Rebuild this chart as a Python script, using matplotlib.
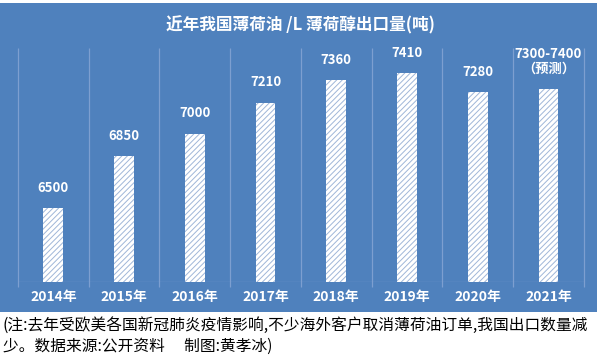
import matplotlib.pyplot as plt

plt.rcParams['font.family'] = ['Noto Sans CJK SC', 'DejaVu Sans']
plt.rcParams['hatch.linewidth'] = 0.7

years = ['2014年', '2015年', '2016年', '2017年', '2018年', '2019年', '2020年', '2021年']
exports = [6500, 6850, 7000, 7210, 7360, 7410, 7280, 7300]
value_labels = ['6500', '6850', '7000', '7210', '7360', '7410', '7280', '7300-7400\n（预测）']

blue = '#4f81bd'
grid = '#7d9fd0'

fig = plt.figure(figsize=(6, 3.58), dpi=100)
fig.patch.set_facecolor('white')

# blue panel behind the chart
bg = fig.add_axes([0, 0.128, 0.995, 0.864], zorder=0)
bg.set_facecolor(blue)
bg.set_xticks([])
bg.set_yticks([])
for s in bg.spines.values():
    s.set_visible(False)

ax = fig.add_axes([0.03, 0.2123, 0.943, 0.654], zorder=1)
ax.set_facecolor('none')
x = range(len(years))
ax.bar(x, exports, width=0.28, color='white', edgecolor='#9fb6d8', linewidth=0,
       hatch='//////', zorder=3)
ax.set_xlim(-0.5, len(years) - 0.5)
ax.set_ylim(6000, 7580)

# category dividers
ax.vlines([i - 0.5 for i in range(len(years) + 1)], 5965, 7580, color=grid,
          linewidth=0.9, clip_on=False, zorder=1)
ax.axhline(6000, color=grid, linewidth=0.9, zorder=2)

for i, (v, lab) in enumerate(zip(exports, value_labels)):
    ax.text(i, v + 90, lab, ha='center', va='bottom', color='white',
            fontsize=9.5, fontweight='bold', linespacing=1.1)

ax.set_xticks(list(x))
ax.set_xticklabels(years, color='white', fontsize=10, fontweight='bold')
ax.tick_params(axis='x', length=0, pad=6)
ax.set_yticks([])
for s in ax.spines.values():
    s.set_visible(False)

fig.text(0.5, 0.93, '近年我国薄荷油 /L 薄荷醇出口量(吨)', ha='center', va='center',
         color='white', fontsize=12, fontweight='bold')

fig.text(0.005, 0.092, '(注:去年受欧美各国新冠肺炎疫情影响,不少海外客户取消薄荷油订单,我国出口数量减',
         ha='left', va='center', color='black', fontsize=11.3)
fig.text(0.005, 0.033, '少。数据来源:公开资料　 制图:黄孝冰)',
         ha='left', va='center', color='black', fontsize=11.3)

fig.savefig('out.png', dpi=100)
